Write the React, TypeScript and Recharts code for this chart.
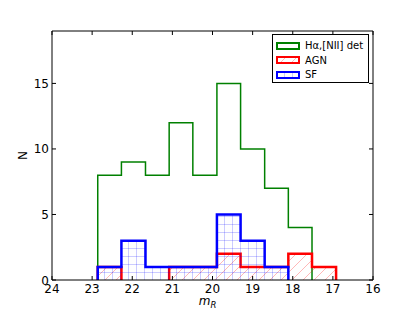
import React from "react";
import { ComposedChart, Area, Line, XAxis, YAxis, Label } from "recharts";

// bin edges (m_R)
const binEdges = [22.86, 22.27, 21.67, 21.08, 20.49, 19.89, 19.3, 18.7, 18.11, 17.52, 16.92];
// counts per bin
const detCounts = [8, 9, 8, 12, 8, 15, 10, 7, 4, 0];
const agnCounts = [1, 0, 0, 1, 1, 2, 1, 1, 2, 1];
const sfCounts = [1, 3, 1, 1, 1, 5, 3, 1, 0, 0];

const xTicks = [24, 23, 22, 21, 20, 19, 18, 17, 16];
const yTicks = [0, 5, 10, 15];
const seriesNames = { det: "H\u03b1,[NII] det", agn: "AGN", sf: "SF" };

// step-outline table: three rows per bin edge (value before, value after, continuation);
// the continuation is null over empty bins so no outline runs along the baseline
const series: Record<string, number[]> = { det: detCounts, agn: agnCounts, sf: sfCounts };
const buildRows = () => {
  const rows: any[] = [];
  const nb = detCounts.length;
  for (let k = 0; k <= nb; k++) {
    const a: any = { m: binEdges[k] };
    const b: any = { m: binEdges[k] };
    const c: any = { m: binEdges[k] };
    for (const key of Object.keys(series)) {
      const cnt = series[key];
      const prev = k > 0 ? cnt[k - 1] : 0;
      const next = k < nb ? cnt[k] : 0;
      a[key] = prev;
      b[key] = next;
      c[key] = k < nb && next === 0 ? null : next;
    }
    rows.push(a, b, c);
  }
  return rows;
};
const rows = buildRows();

const FONT = "'DejaVu Sans', sans-serif";

const BottomTick = (props: any) => {
  const { x, y, payload } = props;
  return (
    <g>
      <line x1={x} y1={y} x2={x} y2={y - 4} stroke="#000" strokeWidth={1} />
      <text x={x} y={y + 13} textAnchor="middle" fontSize={12} fontFamily={FONT} fill="#000">
        {payload.value}
      </text>
    </g>
  );
};
const TopTick = (props: any) => {
  const { x, y } = props;
  return <line x1={x} y1={y} x2={x} y2={y + 4} stroke="#000" strokeWidth={1} />;
};
const LeftTick = (props: any) => {
  const { x, y, payload } = props;
  return (
    <g>
      <line x1={x} y1={y} x2={x + 4} y2={y} stroke="#000" strokeWidth={1} />
      <text x={x - 3} y={y + 4.5} textAnchor="end" fontSize={12} fontFamily={FONT} fill="#000">
        {payload.value}
      </text>
    </g>
  );
};
const RightTick = (props: any) => {
  const { x, y } = props;
  return <line x1={x} y1={y} x2={x - 4} y2={y} stroke="#000" strokeWidth={1} />;
};

const Swatch = ({ color, pattern }: { color: string; pattern?: string }) => (
  <svg width={24} height={8} style={{ display: "block" }}>
    <rect x={1} y={1} width={22} height={6} fill={pattern ? `url(#${pattern})` : "none"} stroke={color} strokeWidth={2} />
  </svg>
);

const LegendBox = () => {
  const items = [
    { name: seriesNames.det, color: "#008000" },
    { name: seriesNames.agn, color: "#ff0000", pattern: "agnHatch" },
    { name: seriesNames.sf, color: "#0000ff", pattern: "sfHatch" },
  ];
  return (
    <div
      style={{
        position: "absolute",
        left: 272,
        top: 34,
        width: 95,
        height: 47,
        border: "1px solid #000",
        background: "#fff",
        boxSizing: "content-box",
        fontFamily: FONT,
        fontSize: 10,
      }}
    >
      {items.map((it, i) => (
        <div
          key={it.name}
          style={{
            position: "absolute",
            left: 3,
            top: 3.5 + i * 14.6,
            height: 14,
            display: "flex",
            alignItems: "center",
            whiteSpace: "nowrap",
          }}
        >
          <Swatch color={it.color} pattern={it.pattern} />
          <span style={{ marginLeft: 5, color: "#000" }}>{it.name}</span>
        </div>
      ))}
    </div>
  );
};

const XLabel = (props: any) => {
  const vb = props.viewBox || {};
  const cx = vb.x + vb.width / 2;
  return (
    <text x={cx - 5} y={305} fontFamily={FONT} fill="#000" textAnchor="middle">
      <tspan fontSize={12} fontStyle="italic">m</tspan>
      <tspan fontSize={8.5} fontStyle="italic" dy={3}>R</tspan>
    </text>
  );
};

export default function App() {
  return (
    <div style={{ position: "absolute", left: 0, top: 0, width: 415, height: 312, background: "#fff" }}>
      <ComposedChart
        width={415}
        height={312}
        data={rows}
        margin={{ top: 30, right: 41, bottom: 0, left: 0 }}
      >
        <defs>
          <pattern id="sfHatch" patternUnits="userSpaceOnUse" width={8} height={8}>
            <path d="M0,0.5 L8,0.5 M0.5,0 L0.5,8" stroke="rgba(0,0,255,0.2)" strokeWidth={1} fill="none" />
          </pattern>
          <pattern id="agnHatch" patternUnits="userSpaceOnUse" width={11} height={11}>
            <path d="M0,11 L11,0 M-2,2 L2,-2 M9,13 L13,9" stroke="rgba(255,0,0,0.28)" strokeWidth={1} fill="none" />
          </pattern>
        </defs>
        <Area
          type="stepAfter"
          dataKey="det"
          name={seriesNames.det}
          stroke="#008000"
          strokeWidth={1.5}
          fill="none"
          connectNulls={false}
          isAnimationActive={false}
          dot={false}
          activeDot={false}
        />
        <Area
          type="stepAfter"
          dataKey="agn"
          name={seriesNames.agn}
          stroke="#ff0000"
          strokeWidth={2.5}
          fill="url(#agnHatch)"
          fillOpacity={1}
          connectNulls={false}
          isAnimationActive={false}
          dot={false}
          activeDot={false}
        />
        <Area
          type="stepAfter"
          dataKey="sf"
          name={seriesNames.sf}
          stroke="#0000ff"
          strokeWidth={2.5}
          fill="url(#sfHatch)"
          fillOpacity={1}
          connectNulls={false}
          isAnimationActive={false}
          dot={false}
          activeDot={false}
        />
        <Line
          dataKey="det"
          xAxisId="top"
          yAxisId="right"
          stroke="none"
          dot={false}
          activeDot={false}
          legendType="none"
          isAnimationActive={false}
        />
        <XAxis
          dataKey="m"
          type="number"
          domain={[16, 24]}
          reversed
          ticks={xTicks}
          interval={0}
          height={32}
          tickSize={0}
          tickMargin={0}
          tick={<BottomTick />}
          axisLine={{ stroke: "#000", strokeWidth: 1 }}
          allowDataOverflow
          zIndex={1000}
        >
          <Label content={<XLabel />} />
        </XAxis>
        <XAxis
          xAxisId="top"
          orientation="top"
          dataKey="m"
          type="number"
          domain={[16, 24]}
          reversed
          ticks={xTicks}
          interval={0}
          height={1}
          tickSize={0}
          tickMargin={0}
          tick={<TopTick />}
          axisLine={{ stroke: "#000", strokeWidth: 1 }}
          allowDataOverflow
          zIndex={1000}
        />
        <YAxis
          type="number"
          domain={[0, 19]}
          ticks={yTicks}
          interval={0}
          width={52}
          tickSize={0}
          tickMargin={0}
          tick={<LeftTick />}
          axisLine={{ stroke: "#000", strokeWidth: 1 }}
          allowDataOverflow
          zIndex={1000}
        >
          <Label
            value="N"
            angle={-90}
            position="insideLeft"
            offset={23}
            style={{ fontFamily: FONT, fontSize: 12, fill: "#000", textAnchor: "middle" }}
          />
        </YAxis>
        <YAxis
          yAxisId="right"
          orientation="right"
          type="number"
          domain={[0, 19]}
          ticks={yTicks}
          interval={0}
          width={1}
          tickSize={0}
          tickMargin={0}
          tick={<RightTick />}
          axisLine={{ stroke: "#000", strokeWidth: 1 }}
          allowDataOverflow
          zIndex={1000}
        />
      </ComposedChart>
      <LegendBox />
    </div>
  );
}
